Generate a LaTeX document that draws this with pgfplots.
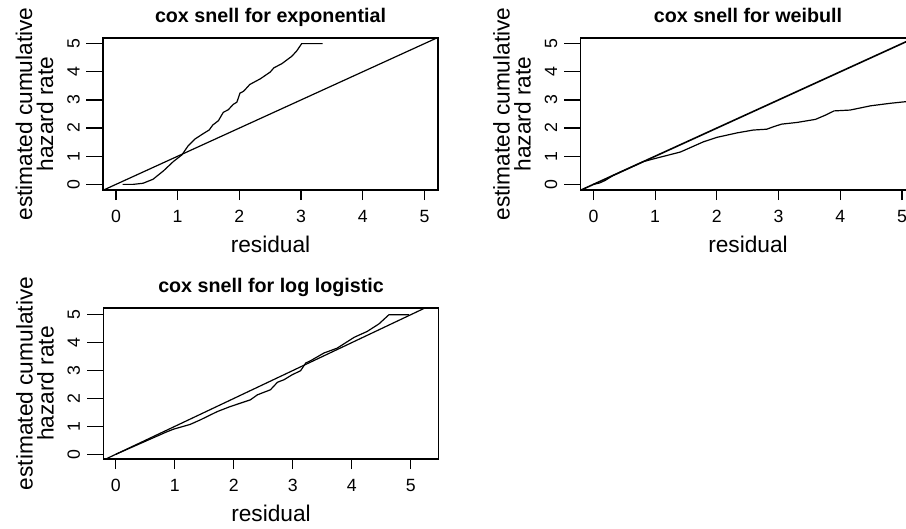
\documentclass[border=0pt]{standalone}
\usepackage{fontspec}
\setmainfont{Liberation Sans}
\usepackage{pgfplots}
\pgfplotsset{compat=1.18}

\newcommand\tickf{\fontsize{17.7bp}{20bp}\selectfont}
\newcommand\labf{\fontsize{22.7bp}{26bp}\selectfont}
\newcommand\titf{\fontsize{19.7bp}{23bp}\selectfont\bfseries}

\pgfplotsset{
  csbase/.style={
    scale only axis,
    width=335bp, height=152bp,
    tick align=outside,
    tick style={line width=1.2bp, black},
    /pgf/number format/assume math mode=true,
  },
  csstyle/.style={
    csbase,
    axis line style={line width=1.4bp, black},
    xtick={0,1,2,3,4,5}, ytick=\empty,
    xtick pos=left,
    major tick length=10bp,
    xticklabel style={font=\tickf, anchor=base},
    xticklabel shift=22.7bp,
    title style={font=\titf, anchor=base, at={(0.5,1)}, yshift=10bp},
  },
  csy/.style={
    csbase,
    axis line style={draw=none},
    xtick=\empty, ytick={0,1,2,3,4,5},
    ytick pos=left,
    major tick length=16.5bp,
    yticklabel style={font=\tickf, rotate=90, anchor=base},
    yticklabel shift=7bp,
  },
  ln/.style={black, line width=1.2bp, no markers},
}

\begin{document}
\begin{tikzpicture}
% ---------- panel 1: exponential ----------
\begin{axis}[csstyle, name=p1, at={(103bp,-190bp)}, anchor=south west,
  xmin=-0.21, xmax=5.22, ymin=-0.2, ymax=5.2,
  title={cox snell for exponential}]
\addplot[ln] coordinates {(-0.3,-0.3) (5.6,5.6)};
\addplot[ln] coordinates {
(0.11,0.00) (0.28,0.00) (0.44,0.04) (0.60,0.18) (0.77,0.48) (0.93,0.81)
(1.07,1.05) (1.17,1.37) (1.28,1.61) (1.42,1.81) (1.51,1.93) (1.57,2.11)
(1.66,2.26) (1.74,2.56) (1.82,2.65) (1.90,2.84) (1.96,2.92) (2.01,3.24)
(2.07,3.31) (2.17,3.55) (2.34,3.75) (2.50,3.99) (2.56,4.14) (2.69,4.29)
(2.85,4.55) (2.93,4.74) (3.01,5.00) (3.35,5.00)};
\end{axis}
\begin{axis}[csy, at={(103bp,-190bp)}, anchor=south west,
  xmin=-0.21, xmax=5.22, ymin=-0.2, ymax=5.2]
\end{axis}
% ---------- panel 2: weibull ----------
\begin{axis}[csstyle, name=p2, at={(580.5bp,-190bp)}, anchor=south west,
  xmin=-0.21, xmax=5.22, ymin=-0.2, ymax=5.2,
  title={cox snell for weibull}]
\addplot[ln, line width=1.6bp] coordinates {(-0.3,-0.3) (5.6,5.6)};
\addplot[ln] coordinates {
(0.00,0.00) (0.10,0.05) (0.19,0.14) (0.32,0.32) (0.50,0.50) (0.81,0.81)
(1.00,0.92) (1.41,1.15) (1.78,1.51) (2.00,1.67) (2.33,1.83) (2.59,1.93)
(2.81,1.96) (2.92,2.05) (3.05,2.14) (3.30,2.20) (3.60,2.31) (3.76,2.46)
(3.90,2.61) (4.16,2.64) (4.49,2.79) (4.81,2.88) (5.07,2.94) (5.20,2.96)};
\end{axis}
\begin{axis}[csy, at={(580.5bp,-190bp)}, anchor=south west,
  xmin=-0.21, xmax=5.22, ymin=-0.2, ymax=5.2]
\end{axis}
% ---------- panel 3: log logistic ----------
\begin{axis}[csstyle, name=p3, at={(103.5bp,-459bp)}, anchor=south west,
  height=151bp,
  xmin=-0.21, xmax=5.47, ymin=-0.17, ymax=5.24,
  title={cox snell for log logistic}]
\addplot[ln] coordinates {(-0.3,-0.3) (5.6,5.6)};
\addplot[ln] coordinates {
(0.00,0.00) (0.87,0.81) (0.98,0.90) (1.26,1.07) (1.43,1.23) (1.72,1.53)
(1.94,1.71) (2.28,1.95) (2.40,2.13) (2.62,2.31) (2.74,2.58) (2.85,2.67)
(2.99,2.85) (3.13,2.99) (3.22,3.27) (3.30,3.35) (3.53,3.63) (3.75,3.80)
(4.04,4.19) (4.26,4.40) (4.46,4.67) (4.63,5.00) (4.97,5.00)};
\end{axis}
\begin{axis}[csy, at={(103.5bp,-459bp)}, anchor=south west,
  height=151bp,
  xmin=-0.21, xmax=5.47, ymin=-0.17, ymax=5.24]
\end{axis}
% ---------- axis labels ----------
\foreach \p in {p1,p2,p3}{
  \node[font=\labf, anchor=base, yshift=-62.7bp] at (\p.south) {residual};
  \node[font=\labf, xshift=-71bp, rotate=90, anchor=base] at (\p.west) {estimated cumulative};
  \node[font=\labf, xshift=-50bp, rotate=90, anchor=base] at (\p.west) {hazard rate};
}
\pgfresetboundingbox
\path[use as bounding box] (0bp,0bp) rectangle (906bp,-529bp);
\end{tikzpicture}
\end{document}
